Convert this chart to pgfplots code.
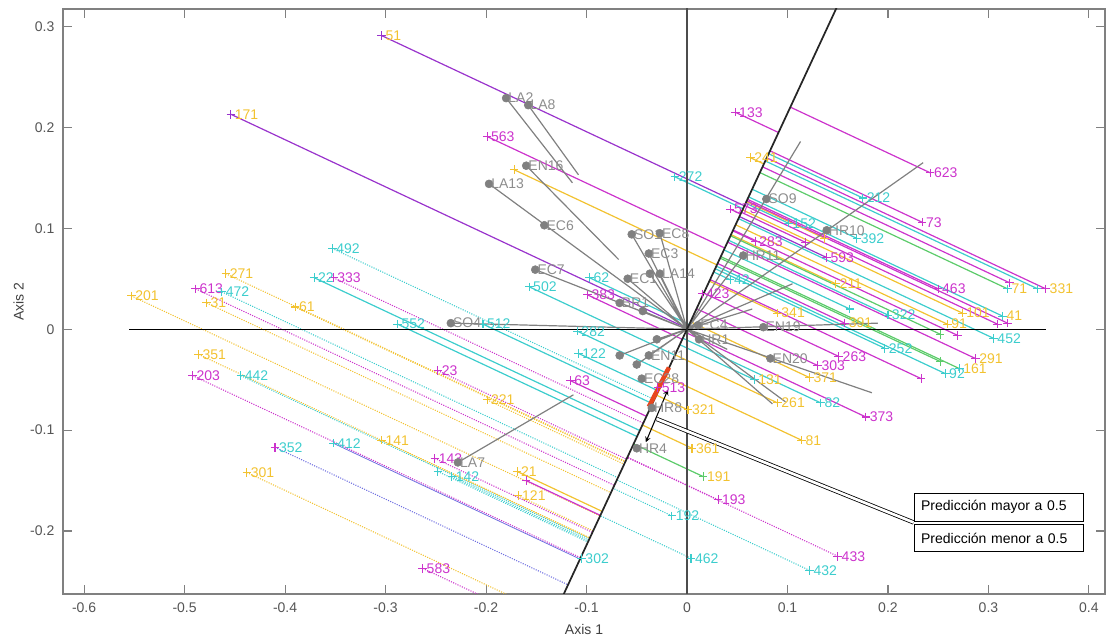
\documentclass[border=0pt]{standalone}
\usepackage{fontspec}
\setmainfont{Liberation Sans}
\usepackage{pgfplots}
\pgfplotsset{compat=1.18}
\usepackage{pgfplotstable}

\definecolor{cmag}{HTML}{CC33CC}
\definecolor{ccya}{HTML}{3CCDCD}
\definecolor{cyel}{HTML}{F2C230}
\definecolor{cpur}{HTML}{9933CC}
\definecolor{cgrn}{HTML}{5CCB6A}
\definecolor{cblu}{HTML}{6F6FE0}
\definecolor{cgry}{HTML}{808080}
\definecolor{cred}{HTML}{E8461E}
\definecolor{ctxt}{HTML}{555555}

\newcommand{\lbl}{\fontsize{10.5}{12}\selectfont}

% purple marker, yellow label, purple line
\pgfplotstableread{
x y lab
-0.304 0.291 51
-0.454 0.213 171
}\tA
% magenta all, solid
\pgfplotstableread{
x y lab
-0.199 0.191 563
0.048 0.215 133
-0.116 -0.051 63
-0.099 0.034 383
0.015 0.035 423
0.043 0.119 573
0.068 0.087 283
0.242 0.155 623
0.234 0.106 73
0.250 0.040 463
0.151 -0.027 263
0.130 -0.036 303
0.178 -0.087 373
-0.029 -0.058 513
0.118 0.086 {}
0.321 0.046 {}
0.309 0.005 {}
0.319 0.006 {}
0.233 -0.049 {}
0.269 -0.006 {}
-0.160 -0.150 {}
}\tB
% magenta marker, purple line
\pgfplotstableread{
x y lab
0.139 0.071 593
}\tBb
% cyan all, solid
\pgfplotstableread{
x y lab
-0.371 0.051 22
-0.288 0.005 552
-0.203 0.005 512
-0.109 -0.002 282
-0.108 -0.024 122
-0.097 0.051 62
-0.157 0.042 502
-0.012 0.151 272
0.043 0.049 42
0.101 0.105 152
0.169 0.090 392
0.175 0.130 212
0.305 -0.009 452
0.200 0.014 322
0.197 -0.019 252
0.257 -0.044 92
0.133 -0.073 82
0.162 0.020 {}
0.349 0.040 {}
}\tC
% cyan marker, yellow label, cyan line
\pgfplotstableread{
x y lab
0.314 0.013 41
0.067 -0.050 131
}\tD
% yellow all, solid
\pgfplotstableread{
x y lab
-0.172 0.158 {}
-0.169 -0.141 21
0.001 -0.080 321
0.063 0.170 241
0.274 0.016 101
0.259 0.005 91
0.148 0.045 211
0.090 0.016 341
0.090 -0.073 261
0.122 -0.048 371
0.114 -0.110 81
0.137 0.090 {}
0.005 -0.118 361
}\tE
% magenta marker, yellow label, magenta line
\pgfplotstableread{
x y lab
0.357 0.040 331
0.287 -0.029 291
0.157 0.006 391
}\tF
% cyan marker, yellow label, green line
\pgfplotstableread{
x y lab
0.319 0.040 71
0.271 -0.039 161
}\tG
% green marker, green line
\pgfplotstableread{
x y lab
0.016 -0.146 191
0.252 -0.032 {}
0.252 -0.005 {}
}\tH
% dotted yellow
\pgfplotstableread{
x y lab
-0.459 0.055 271
-0.553 0.033 201
-0.478 0.026 31
-0.390 0.022 61
-0.486 -0.025 351
-0.304 -0.110 141
-0.438 -0.142 301
-0.199 -0.070 221
-0.168 -0.165 121
}\tI
% dotted magenta
\pgfplotstableread{
x y lab
-0.352 0.051 333
-0.489 0.040 613
-0.492 -0.046 203
-0.248 -0.041 23
-0.251 -0.128 143
-0.263 -0.237 583
0.031 -0.169 193
0.150 -0.225 433
}\tJ
% dotted cyan
\pgfplotstableread{
x y lab
-0.353 0.080 492
-0.463 0.037 472
-0.444 -0.046 442
-0.234 -0.146 142
-0.248 -0.141 {}
-0.105 -0.227 302
-0.015 -0.185 192
0.004 -0.227 462
0.122 -0.239 432
}\tK
% magenta marker, cyan label, blue dotted
\pgfplotstableread{
x y lab
-0.410 -0.117 352
}\tL
% cyan marker, cyan label, blue solid thin
\pgfplotstableread{
x y lab
-0.352 -0.113 412
}\tM
% gray variables
\pgfplotstableread{
x y lab
-0.180 0.229 LA2
-0.158 0.222 LA8
-0.160 0.162 EN16
-0.197 0.144 LA13
-0.142 0.103 EC6
-0.151 0.059 EC7
-0.235 0.006 SO4
-0.055 0.094 SO1
-0.027 0.095 EC8
-0.038 0.075 EC3
-0.027 0.055 LA14
-0.037 0.055 {}
-0.059 0.050 EC1
-0.067 0.026 BR1
-0.044 0.018 {}
0.079 0.129 SO9
0.139 0.098 HR10
0.056 0.073 HR11
0.076 0.002 EN19
0.083 -0.029 EN20
0.012 -0.010 HR1
0.011 0.004 EC4
-0.067 -0.026 {}
-0.050 -0.035 {}
-0.038 -0.026 EN11
-0.030 -0.010 {}
-0.045 -0.049 EC28
-0.035 -0.078 HR8
-0.050 -0.118 HR4
-0.228 -0.132 LA7
}\tN

\newcommand{\proj}[2]{%
  \addplot[#2, quiver={u={0.4234*(0.4234*\thisrow{x}+0.906*\thisrow{y})-\thisrow{x}},
                       v={0.906*(0.4234*\thisrow{x}+0.906*\thisrow{y})-\thisrow{y}}}]
    table[x=x,y=y] {#1};}
\newcommand{\pts}[3]{%
  \addplot[only marks, mark=+, mark size=3.2pt, color=#2, mark options={line width=0.8pt},
    point meta=explicit symbolic, nodes near coords,
    every node near coord/.append style={anchor=west, xshift=1.6pt, text=#3, font=\lbl, inner sep=1pt}]
    table[x=x,y=y,meta=lab] {#1};}

\begin{document}
\begin{tikzpicture}
\begin{axis}[
  scale only axis, width=781.5pt, height=438.75pt,
  xmin=-0.621, xmax=0.416, ymin=-0.2624, ymax=0.3173,
  xtick={-0.6,-0.5,-0.4,-0.3,-0.2,-0.1,0,0.1,0.2,0.3,0.4},
  xticklabels={-0.6,-0.5,-0.4,-0.3,-0.2,-0.1,0,0.1,0.2,0.3,0.4},
  ytick={-0.2,-0.1,0,0.1,0.2,0.3},
  yticklabels={-0.2,-0.1,0,0.1,0.2,0.3},
  xtick pos=both, ytick pos=both,
  tick align=inside, major tick length=7pt,
  axis line style={cgry, line width=0.8pt},
  tick style={cgry, line width=0.8pt},
  ticklabel style={font=\lbl, text=ctxt},
  xticklabel style={yshift=-3pt},
  yticklabel style={xshift=-3pt},
  xlabel={Axis 1}, ylabel={Axis 2},
  label style={font=\lbl, text=black!75},
  xlabel style={yshift=-2pt},
  ylabel style={yshift=-2pt},
]
% dotted projections
\proj{\tI}{cyel, densely dotted, line width=0.8pt}
\proj{\tJ}{cmag, densely dotted, line width=0.8pt}
\proj{\tK}{ccya, densely dotted, line width=0.8pt}
\proj{\tL}{cblu, densely dotted, line width=0.8pt}
\proj{\tM}{cblu, line width=0.6pt}
% solid projections
\proj{\tE}{cyel, line width=0.9pt}
\proj{\tC}{ccya, line width=0.9pt}
\proj{\tD}{ccya, line width=0.9pt}
\proj{\tG}{cgrn, line width=0.9pt}
\proj{\tH}{cgrn, line width=0.9pt}
\proj{\tB}{cmag, line width=0.9pt}
\proj{\tF}{cmag, line width=0.9pt}
\proj{\tBb}{cpur, line width=0.9pt}
\proj{\tA}{cpur, line width=0.9pt}

% gray variable lines
\addplot[cgry, line width=0.9pt] coordinates {
 (0,0) (-0.235,0.006) (0,0) (-0.151,0.059) (0,0) (-0.197,0.144) (0,0)
 (-0.055,0.094) (0,0) (-0.027,0.095) (0,0) (-0.038,0.075) (0,0)
 (-0.027,0.055) (0,0) (-0.037,0.055) (0,0) (-0.059,0.050) (0,0)
 (-0.067,0.026) (0,0) (-0.044,0.018) (0,0) (-0.067,-0.026) (0,0)
 (-0.050,-0.035) (0,0) (-0.038,-0.026) (0,0) (-0.030,-0.010) (0,0)
 (0.235,0.165) (0,0) (0.113,0.186) (0,0) (0.056,0.073) (0,0)
 (0.190,0.006) (0,0) (0.184,-0.063) (0,0) (0.085,-0.074) (0,0)
 (0.098,-0.072) (0,0) (0.105,0.045) (0,0) (0.065,0.020) (0,0)
 (0.040,-0.020) (0,0) (0.012,-0.010) (0,0) (0.011,0.004) (0,0)};
\addplot[cgry, line width=0.9pt] coordinates {(-0.180,0.229) (-0.114,0.145)};
\addplot[cgry, line width=0.9pt] coordinates {(-0.158,0.222) (-0.108,0.153)};
\addplot[cgry, line width=0.9pt] coordinates {(-0.160,0.162) (-0.068,0.069)};
\addplot[cgry, line width=0.9pt] coordinates {(-0.228,-0.132) (-0.113,-0.065)};

% reference lines
\addplot[black, line width=0.8pt] coordinates {(-0.555,0) (0.357,0)};
\addplot[black!70, line width=0.8pt] coordinates {(0,-0.3) (0,0.35)};
\addplot[black!85, line width=1.3pt] coordinates {(-0.1402,-0.30) (0.1603,0.343)};

% markers and labels
\pts{\tI}{cyel}{cyel}
\pts{\tJ}{cmag}{cmag}
\pts{\tK}{ccya}{ccya}
\pts{\tL}{cmag}{ccya}
\pts{\tM}{ccya}{ccya}
\pts{\tE}{cyel}{cyel}
\pts{\tC}{ccya}{ccya}
\pts{\tD}{ccya}{cyel}
\pts{\tG}{ccya}{cyel}
\pts{\tH}{cgrn}{cyel}
\pts{\tB}{cmag}{cmag}
\pts{\tBb}{cmag}{cmag}
\pts{\tF}{cmag}{cyel}
\pts{\tA}{cpur}{cyel}

% gray dots
\addplot[only marks, mark=*, mark size=3pt, color=cgry,
  point meta=explicit symbolic, nodes near coords,
  every node near coord/.append style={anchor=west, text=cgry!90, font=\lbl, inner sep=1.5pt}]
  table[x=x,y=y,meta=lab] {\tN};

% prediction band
\addplot[cred, line width=3.4pt] coordinates {(-0.038,-0.077) (-0.018,-0.038)};
\draw[<->, >=stealth, black, line width=0.8pt] (axis cs:-0.019,-0.060) -- (axis cs:-0.041,-0.112);
\draw[black, double, double distance=2pt, line width=0.6pt] (axis cs:-0.030,-0.089) -- (axis cs:0.2255,-0.1915);
\node[draw=black, fill=white, line width=0.6pt, anchor=south west, minimum width=126.75pt, minimum height=21pt, font=\lbl, align=left, text width=116pt, inner sep=5pt]
  at (axis cs:0.2255,-0.1905) {Predicción mayor a 0.5};
\node[draw=black, fill=white, line width=0.6pt, anchor=north west, minimum width=126.75pt, minimum height=20.25pt, font=\lbl, align=left, text width=116pt, inner sep=5pt]
  at (axis cs:0.2255,-0.1935) {Predicción menor a 0.5};
\end{axis}
\pgfresetboundingbox
\path ([shift={(-47.25pt,-32.25pt)}]current axis.south west) rectangle ([shift={(3.75pt,6.75pt)}]current axis.north east);
\end{tikzpicture}
\end{document}
